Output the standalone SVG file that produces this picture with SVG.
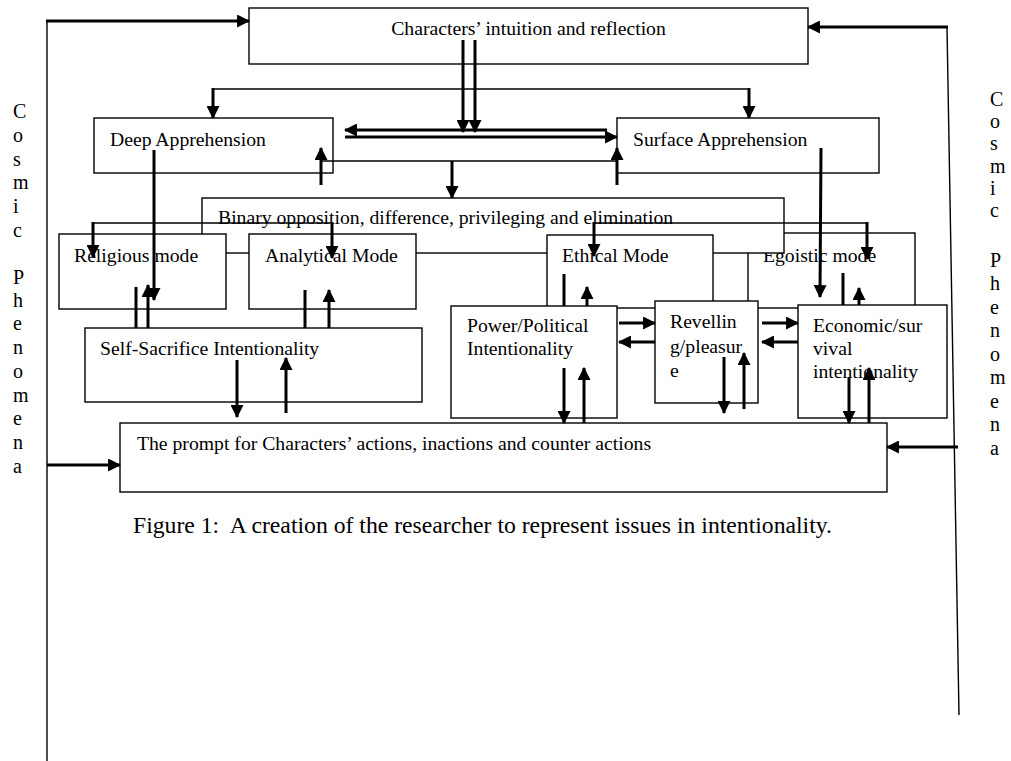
<svg xmlns="http://www.w3.org/2000/svg" width="1011" height="761" viewBox="0 0 1011 761">
<defs>
<style>
text{font-family:"Liberation Serif","Times New Roman",serif;font-size:19.7px;fill:#000}
.box{fill:#fff;stroke:#000;stroke-width:1.4}
.thin{stroke:#000;stroke-width:1.4;fill:none}
.thick{stroke:#000;stroke-width:3;fill:none}
.arr{stroke:#000;stroke-width:3;fill:none;marker-end:url(#ah)}
.side{font-size:20px}
.cap{font-size:23.7px}
</style>
<marker id="ah" markerUnits="userSpaceOnUse" markerWidth="13" markerHeight="13" viewBox="0 0 12 12" refX="11" refY="6" orient="auto"><path d="M0,0 L12,6 L0,12 z" fill="#000"/></marker>
</defs>
<rect width="1011" height="761" fill="#fff"/>

<g id="side-left">
<text class="side" x="13"><tspan x="13" y="118">C</tspan><tspan x="13" y="142">o</tspan><tspan x="13" y="166">s</tspan><tspan x="13" y="189">m</tspan><tspan x="13" y="213">i</tspan><tspan x="13" y="237">c</tspan><tspan x="13" y="284">P</tspan><tspan x="13" y="307">h</tspan><tspan x="13" y="330">e</tspan><tspan x="13" y="354">n</tspan><tspan x="13" y="378">o</tspan><tspan x="13" y="402">m</tspan><tspan x="13" y="425">e</tspan><tspan x="13" y="449">n</tspan><tspan x="13" y="473">a</tspan></text>
</g>
<g id="side-right">
<text class="side" x="990"><tspan x="990" y="106">C</tspan><tspan x="990" y="128">o</tspan><tspan x="990" y="150">s</tspan><tspan x="990" y="173">m</tspan><tspan x="990" y="195">i</tspan><tspan x="990" y="217">c</tspan><tspan x="990" y="267">P</tspan><tspan x="990" y="290">h</tspan><tspan x="990" y="314">e</tspan><tspan x="990" y="337">n</tspan><tspan x="990" y="361">o</tspan><tspan x="990" y="384">m</tspan><tspan x="990" y="408">e</tspan><tspan x="990" y="431">n</tspan><tspan x="990" y="455">a</tspan></text>
</g>

<g id="top">
<rect class="box" x="249" y="8" width="559" height="56"/>
<text x="528.5" y="35" text-anchor="middle">Characters’ intuition and reflection</text>
</g>
<g id="deep">
<rect class="box" x="94" y="118" width="239" height="55"/>
<text x="110" y="146">Deep Apprehension</text>
</g>
<g id="surface">
<rect class="box" x="617" y="118" width="262" height="55"/>
<text x="633" y="146">Surface Apprehension</text>
</g>
<g id="egoistic">
<rect class="box" x="748" y="233" width="167" height="75"/>
<text x="763" y="262">Egoistic mode</text>
</g>
<g id="binary">
<rect class="box" x="202" y="198" width="582" height="55"/>
<text x="218" y="224">Binary opposition, difference, privileging and elimination</text>
</g>
<g id="religious">
<rect class="box" x="59" y="234" width="167" height="75"/>
<text x="74" y="262">Religious mode</text>
</g>
<g id="analytical">
<rect class="box" x="249" y="234" width="167" height="75"/>
<text x="265" y="262">Analytical Mode</text>
</g>
<g id="ethical">
<rect class="box" x="547" y="235" width="166" height="73"/>
<text x="562" y="262">Ethical Mode</text>
</g>
<g id="selfsacrifice">
<rect class="box" x="85" y="328" width="337" height="74"/>
<text x="100" y="355">Self-Sacrifice Intentionality</text>
</g>
<g id="power">
<rect class="box" x="451" y="306" width="166" height="112"/>
<text x="467" y="332">Power/Political</text>
<text x="467" y="355">Intentionality</text>
</g>
<g id="revelling">
<rect class="box" x="655" y="301" width="103" height="102"/>
<text x="670" y="328">Revellin</text>
<text x="670" y="353">g/pleasur</text>
<text x="670" y="377">e</text>
</g>
<g id="economic">
<rect class="box" x="798" y="305" width="149" height="113"/>
<text x="813" y="332">Economic/sur</text>
<text x="813" y="355">vival</text>
<text x="813" y="378">intentionality</text>
</g>
<g id="prompt">
<rect class="box" x="120" y="423" width="767" height="69"/>
<text x="137" y="450">The prompt for Characters’ actions, inactions and counter actions</text>
</g>

<g id="connectors">
<line class="thin" x1="47" y1="21" x2="47" y2="761"/>
<line class="thin" x1="947" y1="27" x2="959" y2="715"/>
<line class="arr" x1="46" y1="21" x2="249" y2="21"/>
<line class="arr" x1="948" y1="27" x2="808" y2="27"/>
<line class="arr" x1="47" y1="465" x2="120" y2="465"/>
<line class="arr" x1="958" y1="447" x2="887" y2="447"/>

<line class="arr" x1="463" y1="40" x2="463" y2="132"/>
<line class="arr" x1="475" y1="40" x2="475" y2="132"/>
<line class="arr" x1="607" y1="130" x2="345" y2="130"/>
<line class="arr" x1="345" y1="137" x2="617" y2="137"/>

<line class="thin" x1="213" y1="89" x2="749" y2="89"/>
<line class="arr" x1="213" y1="88" x2="213" y2="118"/>
<line class="arr" x1="749" y1="88" x2="749" y2="118"/>

<line class="thin" x1="321" y1="161" x2="617" y2="161"/>
<line class="arr" x1="321" y1="185" x2="321" y2="148"/>
<line class="arr" x1="617" y1="185" x2="617" y2="148"/>
<line class="arr" x1="452" y1="161" x2="452" y2="198"/>

<line class="thin" x1="93" y1="223" x2="332" y2="223"/>
<line class="thin" x1="594" y1="223" x2="867" y2="223"/>
<line class="arr" x1="93" y1="222" x2="93" y2="257"/>
<line class="arr" x1="332" y1="222" x2="332" y2="258"/>
<line class="arr" x1="594" y1="222" x2="594" y2="256"/>
<line class="arr" x1="867" y1="222" x2="867" y2="259"/>

<line class="arr" x1="154" y1="150" x2="154" y2="300"/>
<line class="arr" x1="821" y1="148" x2="820" y2="297"/>

<line class="thick" x1="136" y1="287" x2="136" y2="328"/>
<line class="arr" x1="148" y1="328" x2="148" y2="285"/>
<line class="thick" x1="305" y1="290" x2="305" y2="328"/>
<line class="arr" x1="329" y1="328" x2="329" y2="290"/>
<line class="arr" x1="237" y1="360" x2="237" y2="417"/>
<line class="arr" x1="286" y1="413" x2="286" y2="358"/>

<line class="thick" x1="564" y1="274" x2="564" y2="306"/>
<line class="arr" x1="587" y1="306" x2="587" y2="287"/>
<line class="thick" x1="843" y1="273" x2="843" y2="305"/>
<line class="arr" x1="859" y1="305" x2="859" y2="288"/>

<line class="arr" x1="619" y1="323" x2="655" y2="323"/>
<line class="arr" x1="655" y1="342" x2="619" y2="342"/>
<line class="arr" x1="762" y1="323" x2="798" y2="323"/>
<line class="arr" x1="798" y1="342" x2="762" y2="342"/>

<line class="arr" x1="564" y1="368" x2="564" y2="423"/>
<line class="arr" x1="584" y1="423" x2="584" y2="368"/>
<line class="arr" x1="724" y1="357" x2="724" y2="413"/>
<line class="arr" x1="744" y1="409" x2="744" y2="353"/>
<line class="arr" x1="849" y1="377" x2="849" y2="423"/>
<line class="arr" x1="869" y1="423" x2="869" y2="368"/>
</g>

<g id="caption">
<text class="cap" x="133" y="533" xml:space="preserve">Figure 1:  A creation of the researcher to represent issues in intentionality.</text>
</g>
</svg>
